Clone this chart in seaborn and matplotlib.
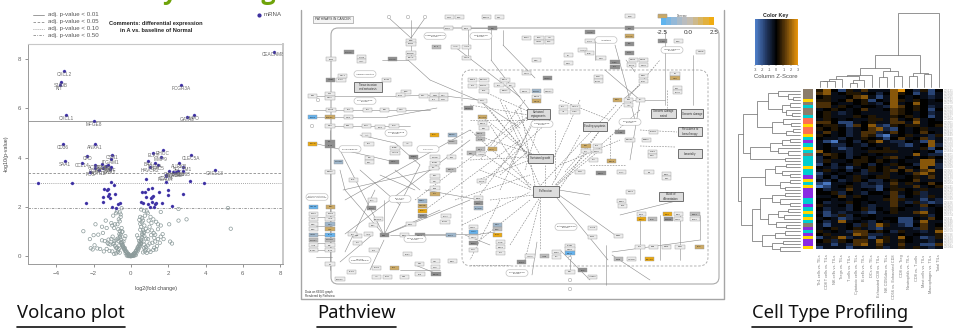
import matplotlib
matplotlib.use('Agg')
import matplotlib.pyplot as plt
import matplotlib.colors as mcolors
from matplotlib.patches import Rectangle, FancyBboxPatch, Circle
import pandas as pd
import seaborn as sns

W, H = 955, 329

# Volcano plot values.
sig_x = [7.65, -3.58, -3.76, -3.82, 2.69, -3.46, 2.99, 3.39, -1.97, -3.64, -1.94, -2.35, -0.99, -3.55, -2.6,
         -1.09, 1.2, 1.7, 1.61, 0.93, 1.29, 3.2, 2.58, 2.78, 4.5, 1.86, 2.28, 2.81, -2.17, -1.94, -1.49, -1.13,
         -1.9, -1.55, -1.35, -1.7, -1.25, -1.05, 1.0, 1.45, 1.9, 2.05, 2.4, 2.5,
         -5.0, -3.15, -1.09, -0.9, -1.45, -1.22, -1.3, -1.49, -1.16, -1.22, -0.86, -1.13, -1.49, -2.42, -0.59, -0.68,
         -1.0, -0.82, 0.81, 1.88, 3.14, 3.89, 2.78, 2.01, 2.01, 1.52, 0.57, 0.75, 0.93, 1.11, 0.81, 1.11, 1.2, 1.08,
         0.54, 0.66, 0.93, 1.11, 1.34, 1.68, 2.2, 1.02, 1.24, 1.3]
sig_y = [8.30, 7.50, 7.07, 6.94, 6.95, 5.73, 5.67, 5.73, 5.48, 4.54, 4.56, 4.08, 4.12, 3.87, 3.8,
         3.93, 4.2, 4.31, 4.04, 3.87, 3.77, 4.11, 3.77, 3.64, 3.5, 3.26, 3.41, 3.46, 3.43, 3.57, 3.6, 3.54,
         3.72, 3.75, 3.68, 3.5, 3.7, 3.62, 3.62, 3.7, 3.3, 3.45, 3.42, 3.45,
         2.96, 2.96, 3.03, 2.89, 2.72, 2.73, 2.68, 2.42, 2.52, 2.46, 2.53, 2.35, 2.22, 2.18, 2.15, 2.11,
         2.0, 1.97, 3.12, 3.03, 3.07, 2.99, 2.54, 2.68, 2.49, 2.6, 2.62, 2.62, 2.73, 2.76, 2.42, 2.42, 2.46, 2.38,
         2.22, 2.16, 2.11, 2.19, 2.18, 2.18, 2.06, 1.99, 2.01, 2.12]
gene_names = ['CEACAM8', 'CXCL2', 'S100B', 'KIT', 'FCGR3A', 'CXCL1', 'GATA3', 'MPO', 'MFGE8', 'CD36', 'ANXA1',
              'CFD', 'CSN1', 'SAA1', 'CCL14', 'ITGAM1', 'ELK3', 'RHOC', 'MMP9', 'BAX', 'TOP2A', 'CLEC5A',
              'AURKB', 'SECTM1', 'CXCL13', 'PLAUR', 'LILRB4', 'CD163', 'FOS', 'PDK4', 'ABCA8', 'ANK2',
              'ACKR1', 'SELE', 'CAV1', 'ADH1B', 'TEK', 'VWF', 'HAVCR2', 'BIRC5', 'CD274', 'IDO1', 'TYROBP', 'LAG3']

gray_x = [-0.05, 0.05, -0.1, 0.1, -0.15, 0.15, -0.2, 0.2, -0.25, 0.25, -0.3, 0.3, -0.1, 0.12, -0.18, 0.22,
          -0.35, 0.35, -0.28, 0.3, -0.4, 0.4, -0.32, 0.38, -0.45, 0.45, -0.38, 0.42, -0.5, 0.5, -0.42, 0.48,
          -0.55, 0.55, -0.46, 0.52, -0.6, 0.6, -0.5, 0.56, -0.02, 0.02, -0.08, 0.08, -0.14, 0.16, -0.22, 0.26,
          -0.6, 0.65, -0.7, 0.75, -0.8, 0.85, -0.9, 0.95, -1.0, 1.05, -1.15, 1.2, -1.3, 1.35, -0.65, 0.7,
          -0.75, 0.8, -0.85, 0.9, -0.95, 1.0, -1.1, 1.15, -1.25, 1.3, -0.55, 0.6, -0.6, 0.65, -0.5, 0.55,
          -0.62, 0.68, -0.7, 0.72, -0.78, 0.82, -0.88, 0.92, -0.98, 1.08, -1.2, 1.25, -1.4, 1.45, -1.55, 1.6,
          0.7, 0.8, 0.9, 1.0, 1.12, 1.22, 0.5, 0.58, 0.65, 0.72, 0.45, 0.5, -0.68, -0.72, -0.6, -0.55,
          -0.8, -0.9, -1.05, -1.2, -1.45, -1.65, -1.8, -1.95, -2.05, -2.15, -2.2, -2.0, -1.75, -1.5, -1.3,
          -1.0, -0.85, -0.65, -0.55, -0.6, -0.75, -0.9, -1.05, -1.35, -1.55, -1.9, -2.55, -0.95, -0.8,
          0.6, 0.75, 0.9, 1.05, 1.2, 1.35, 1.45, 1.6, 1.7, 1.75, 1.55, 1.4, 1.25, 1.1, 0.95, 0.85, 0.7, 0.55,
          2.05, 2.1, 2.2, 2.55, 2.55, 2.98, 5.2, 5.35, 1.6, 1.45, 1.3, -0.5, -0.45,
          -0.12, 0.14, -0.24, 0.28, -0.33, 0.36, -0.44, 0.46, -0.52, 0.54, -0.4, 0.44, -0.35, 0.4, -0.3, 0.33,
          -0.7, 0.78, -0.62, 0.7, -0.58, 0.62, -0.48, 0.5, -0.66, 0.68]
gray_y = [0.02, 0.02, 0.05, 0.06, 0.1, 0.1, 0.13, 0.14, 0.18, 0.19, 0.24, 0.25, 0.02, 0.03, 0.06, 0.08,
          0.3, 0.31, 0.12, 0.15, 0.38, 0.4, 0.22, 0.24, 0.46, 0.48, 0.3, 0.32, 0.56, 0.58, 0.36, 0.4,
          0.66, 0.68, 0.48, 0.5, 0.76, 0.78, 0.58, 0.62, 0.0, 0.01, 0.03, 0.04, 0.01, 0.02, 0.03, 0.05,
          0.15, 0.16, 0.18, 0.2, 0.12, 0.14, 0.1, 0.24, 0.2, 0.18, 0.22, 0.26, 0.3, 0.28, 0.3, 0.34,
          0.35, 0.38, 0.42, 0.44, 0.5, 0.52, 0.48, 0.55, 0.55, 0.6, 0.88, 0.92, 1.02, 1.06, 1.15, 1.2,
          0.9, 0.95, 0.72, 0.82, 0.68, 0.72, 0.62, 0.7, 0.8, 0.86, 0.68, 0.75, 0.62, 0.7, 0.65, 0.8,
          1.0, 1.12, 1.02, 1.2, 1.05, 0.95, 1.32, 1.38, 1.45, 1.25, 1.48, 1.6, 1.1, 1.3, 1.42, 1.7,
          0.35, 0.55, 0.7, 0.5, 0.2, 0.3, 0.32, 0.45, 0.28, 0.33, 0.7, 0.86, 0.88, 0.95, 1.15,
          1.25, 1.3, 1.5, 1.6, 1.78, 1.82, 1.15, 1.35, 1.45, 1.2, 1.3, 1.02, 1.65, 1.75,
          1.55, 1.65, 1.75, 1.6, 1.5, 1.4, 1.3, 1.25, 0.9, 0.7, 0.55, 0.42, 0.35, 1.35, 1.45, 1.82, 1.85, 1.9,
          1.3, 0.6, 0.52, 1.92, 1.45, 1.5, 1.96, 1.12, 1.8, 1.1, 0.88, 1.95, 1.0,
          0.09, 0.1, 0.2, 0.22, 0.34, 0.36, 0.42, 0.44, 0.52, 0.54, 0.6, 0.62, 0.72, 0.74, 0.82, 0.85,
          0.25, 0.28, 0.45, 0.48, 0.82, 0.86, 1.0, 1.08, 0.62, 0.6]

cutoff_y = [5.49, 3.37, 2.96, 1.95]
cutoff_styles = ['-', (0, (3, 2)), (0, (1, 1.5)), (0, (3, 1.5, 1, 1.5))]
cutoff_names = ['adj. p-value < 0.01', 'adj. p-value < 0.05', 'adj. p-value < 0.10', 'adj. p-value < 0.50']

# Pathview nodes: x, y, kind, gene. Each list is in its own crop's units.
nodes_left = [(448, 52, 'w', 'WNT'), (478, 52, 'w', 'FZD'), (560, 52, 'w', 'Ligand'), (598, 52, 'w', 'Rec'),
              (445, 85, 'w', 'PTCH'), (500, 85, 'w', 'SMO'), (577, 85, 'd', 'GLI'), (333, 122, 'w', 'BMP'), (333, 132, 'w', 'TGFB'),
              (333, 160, 'w', 'TGFBR'), (333, 173, 'w', 'SMAD'), (410, 140, 'g', 'Bcl-2'), (467, 140, 'w', 'APC'),
              (500, 140, 'w', 'AXIN'), (500, 173, 'w', 'GSK3'), (147, 157, 'd', 'CASP3'), (93, 177, 'w', 'ECM'),
              (185, 172, 'w', 'CALM'), (185, 184, 'w', 'ITGA'), (278, 177, 'd', 'CASP9'), (92, 239, 'd', 'ITGB1'),
              (123, 239, 'w', 'LAMA'), (128, 228, 'w', 'COL4'), (260, 240, 'w', 'E-cad'), (518, 240, 'w', 'BMP2'),
              (552, 240, 'w', 'NOTCH'), (518, 257, 'w', 'DLL'), (552, 257, 'w', 'PTCH1'), (552, 272, 'w', 'TCF'),
              (615, 240, 'w', 'RBX1'), (597, 256, 'w', 'Skp'), (632, 256, 'w', 'Cul'), (615, 272, 'w', 'RHOA'),
              (38, 287, 'w', 'Rac'), (90, 281, 'w', 'FN1'), (90, 294, 'w', 'CXCL'), (318, 275, 'w', 'CBP'),
              (302, 286, 'w', 'p300'), (370, 288, 'w', 'DVL'), (405, 285, 'w', 'MITF'), (430, 285, 'w', 'MET'),
              (402, 298, 'w', 'FLT'), (430, 298, 'w', 'KDR'), (548, 302, 'w', 'MYC'), (93, 329, 'w', 'PDGF'),
              (145, 329, 'w', 'Fos'), (202, 329, 'w', 'Jun'), (253, 329, 'w', 'Raf'), (305, 329, 'w', 'MEK'),
              (505, 325, 'd', 'CCND1'), (548, 352, 't', 'Survivin'), (548, 370, 'w', 'CDK4'), (552, 385, 'w', 'E2F'),
              (38, 352, 'b', 'EGFR'), (90, 352, 't', 'ERBB2'), (145, 352, 'w', 'Grb2'), (90, 377, 'w', 'SOS'),
              (145, 377, 'w', 'Ras'), (200, 377, 'w', 'PI3K'), (240, 382, 'w', 'PIP3'), (282, 377, 'w', 'PKC'),
              (200, 405, 'w', 'Akt'), (403, 404, 'o', 'BAX'), (457, 404, 's', 'BIRC5'), (457, 425, 'g', 'MDM2'),
              (541, 402, 'g', 'CDK2'), (541, 417, 'g', 'CycE'), (514, 459, 'g', 'RB1'), (542, 447, 'g', 'HIF1'),
              (577, 447, 't', 'TRAF'), (542, 463, 'w', 'ARNT'), (38, 431, 'o', 'KITLG'), (90, 425, 'd', 'KIT'),
              (90, 438, 'd', 'FLT3'), (207, 431, 'w', 'Shc'), (115, 485, 's', 'PDGFB'), (208, 474, 'w', 'Crk'),
              (208, 487, 'w', 'CBL'), (285, 443, 'w', 'NFkB'), (322, 432, 'w', 'IKK'), (285, 458, 'w', 'TRAF2'),
              (340, 470, 'd', 'PTEN'), (405, 472, 'w', 'mTOR'), (455, 472, 'w', 'S6K'), (405, 488, 'w', 'FKHR'),
              (282, 485, 'd', 'STAT')]
nodes_right = [(360, 49, 'w', 'FasL'), (358, 85, 'd', 'Fas'), (358, 108, 't', 'CASP8'), (358, 132, 'd', 'Bid'),
               (358, 158, 'd', 'CytC'), (457, 49, 't', 'BRCA'), (457, 123, 'd', 'ATM'), (505, 123, 'w', 'CHK'),
               (50, 113, 'w', 'TGFA'), (87, 113, 'w', 'EGF'), (118, 113, 'w', 'IGF'), (87, 125, 'w', 'VEGF'),
               (118, 125, 'w', 'FGF'), (80, 181, 'w', 'HGF'), (240, 96, 'd', 'APAF'), (240, 123, 'w', 'CASP'),
               (175, 165, 'w', 'Bcl'), (175, 190, 'w', 'MSH'), (218, 151, 'w', 'AKT1'), (238, 160, 'w', 'PKB'),
               (273, 175, 'w', 'MLH'), (315, 187, 'd', 'TP53'), (315, 200, 'd', 'p21'), (370, 180, 'w', 'MSH2'),
               (400, 180, 'w', 'MSH6'), (365, 196, 'w', 'PMS2'), (400, 196, 'w', 'MLH1'), (50, 220, 'w', 'GSTP'),
               (112, 234, 'd', 'VEGFA'), (45, 273, 'w', 'CDH1'), (80, 273, 's', 'TGFB1'), (115, 273, 'w', 'CTNNA'),
               (80, 290, 'w', 'NOS2'), (80, 303, 't', 'COX2'), (265, 230, 'w', 'PGE'), (265, 243, 'w', 'PPAR'),
               (400, 228, 'w', 'RXR'), (400, 243, 'w', 'RAR'), (322, 300, 't', 'DCC'), (355, 300, 'w', 'Bak'),
               (392, 300, 'w', 'Bcr'), (355, 316, 'w', 'Abl'), (160, 320, 'w', 'JAK'), (195, 320, 'w', 'STAT3'),
               (160, 335, 'w', 'IL6'), (195, 335, 'w', 'TP63'), (495, 222, 'w', 'FH'), (495, 235, 't', 'SDH'),
               (502, 265, 'w', 'VHL'), (502, 277, 'w', 'EPAS'), (572, 155, 'w', 'GADD'), (228, 438, 't', 'Bim'),
               (262, 438, 'w', 'NF1'), (228, 453, 'w', 'p27'), (262, 453, 'w', 'POLK'), (330, 397, 'd', 'ATR'),
               (360, 420, 'w', 'CDC25'), (410, 420, 'w', 'Rad51'), (305, 483, 't', 'CDK6'), (250, 480, 'w', 'p15'),
               (430, 395, 'w', 'hTERT'), (428, 455, 'w', 'TERC'), (428, 468, 'w', 'DKC')]
nodes_bottom = [(90, 20, 'w', 'Cdc42'), (160, 45, 'w', 'PLD'), (217, 105, 'w', 'PKA'), (235, 162, 'w', 'RalGDS'),
                (220, 180, 'w', 'CrkL'), (172, 212, 'w', 'Gab'), (157, 208, 'w', 'Nck'), (205, 208, 'w', 'Abl1'),
                (40, 125, 'b', 'CSF1R'), (92, 125, 't', 'RET'), (215, 130, 'd', 'RASA'), (40, 146, 'w', 'FGF2'),
                (92, 146, 'w', 'FGFR'), (40, 161, 'w', 'IGF1'), (90, 161, 'w', 'IGFR'), (40, 178, 'w', 'HGF'),
                (90, 178, 's', 'MET'), (40, 193, 'w', 'NGF'), (90, 193, 't', 'TRK'), (40, 209, 's', 'VEGF'),
                (90, 209, 'b', 'FLT1'), (40, 225, 'g', 'PDGFA'), (90, 225, 'g', 'PDGFR'), (40, 240, 'w', 'Ang'),
                (90, 240, 'w', 'TIE'), (40, 256, 'w', 'FLT3L'), (90, 256, 'w', 'FLT3'), (90, 298, 'w', 'GF'),
                (172, 233, 'w', 'Fyn'), (222, 256, 'w', 'Sos'), (253, 210, 'd', 'Ras'), (313, 210, 'w', 'Raf1'),
                (360, 210, 'd', 'MEK1'), (453, 210, 's', 'ERK1'), (520, 187, 'w', 'c-Myc'), (520, 201, 'b', 'c-Jun'),
                (520, 217, 'w', 'c-Fos'), (520, 234, 'd', 'ETS1'), (520, 255, 'w', 'MMP'), (592, 179, 's', 'MAX'),
                (592, 193, 'g', 'CBP'), (592, 209, 'o', 'ELK1'), (602, 232, 'w', 'CycD'), (602, 246, 'w', 'CDK4'),
                (602, 263, 'w', 'p16'), (367, 107, 's', 'CTBP'), (367, 122, 't', 'CTNNB'), (367, 137, 'o', 'TCF7'),
                (367, 152, 'd', 'LEF1'), (535, 100, 'w', 'BIRC'), (535, 115, 'd', 'MYC'), (535, 130, 's', 'PPARD'),
                (545, 48, 'w', 'MMP2'), (438, 153, 'w', 'RALA'), (435, 170, 'w', 'RALB'), (333, 178, 'w', 'Rac1'),
                (322, 268, 'w', 'RhoA'), (358, 296, 'w', 'Pak'), (406, 288, 'w', 'JNK'), (406, 306, 'w', 'MKK'),
                (458, 288, 'w', 'CDC'), (360, 328, 'w', 'Rho'), (408, 328, 'd', 'ROCK'), (283, 308, 't', 'Shh'),
                (230, 308, 'w', 'PKCa'), (155, 320, 'w', 'PLCg'), (230, 335, 'w', 'IP3'), (262, 335, 'w', 'DAG'),
                (313, 335, 'w', 'Ca2'), (120, 343, 'w', 'EGFR2'), (402, 8, 'w', 'Ets'), (405, 33, 'w', 'CBL'),
                (405, 48, 'w', 'Rel'), (405, 70, 'w', 'Bad'), (405, 87, 't', 'p21'), (453, 15, 'g', 'CDKN'),
                (665, 291, 'd', 'DAPK'), (690, 274, 'w', 'ITGAV'), (733, 274, 'g', 'ITGB'), (770, 262, 'w', 'PTK2'),
                (770, 275, 'w', 'Src'), (810, 242, 'w', 'LAMB'), (810, 252, 'w', 'CTNN'), (810, 264, 'b', 'CD44'),
                (810, 320, 'w', 'Fak'), (848, 316, 'd', 'Bcl2'), (878, 335, 'w', 'Integrin'), (878, 188, 'w', 'Cyclin'),
                (878, 215, 'w', 'PIM1'), (840, 20, 'w', 'MYD'), (903, 25, 'd', 'MLH1'), (965, 22, 'w', 'CycA'),
                (1047, 22, 'w', 'Rb'), (1100, 28, 'w', 'E2F1'), (1100, 40, 'w', 'DP1'), (992, 80, 'w', 'CDK1'),
                (965, 108, 'w', 'CEBP'), (968, 122, 'w', 'PML'), (1103, 148, 'o', 'GLI1'), (1135, 148, 'w', 'HHIP'),
                (1185, 148, 'g', 'BMP4'), (1105, 163, 'd', 'PTCH2'), (1135, 163, 'w', 'c-Myc'), (1185, 163, 'w', 'TCF4'),
                (1025, 148, 'w', 'Bmi1'), (1025, 163, 'o', 'DVL1'), (1058, 163, 'g', 'NKD'), (955, 212, 'w', 'Cdk2'),
                (955, 282, 'g', 'Fadd'), (995, 282, 'w', 'TRADD'), (1048, 283, 'o', 'SMAD3'), (1020, 245, 'w', 'p53'),
                (1060, 245, 'w', 'Rad'), (1100, 245, 'w', 'Cdc6'), (1140, 245, 'w', 'Mdm'), (1198, 245, 't', 'Ect2')]

# Big process boxes: left, top, right, bottom, name (picture pixels).
process_boxes = [(354, 82, 382, 92, 'Tissue invasion\nand metastasis'), (527, 109, 550, 119, 'Sustained\nangiogenesis'),
                 (651, 109, 676, 118, 'Genomic damage\ncontrol'), (681, 109, 703, 118, 'Genomic damage'),
                 (583, 122, 607, 131, 'Evading apoptosis'), (678, 127, 702, 136, 'Resistance to\nchemotherapy'),
                 (678, 149, 702, 158, 'Immortality'), (528, 154, 553, 163, 'Sustained growth'),
                 (533, 186, 559, 197, 'Proliferation'), (659, 192, 683, 201, 'Block of\ndifferentiation')]
pathway_labels = [(435, 36, 'Hedgehog signaling\npathway'), (481, 36, 'Wnt signaling\npathway'), (365, 74, 'Adherens junction'),
                  (365, 101, 'Notch signaling\npathway'), (396, 133, 'mTOR signaling\npathway'), (428, 149, 'Cell cycle'),
                  (350, 149, 'Focal adhesion'), (606, 40, 'Apoptosis'), (672, 50, 'VEGF signaling\npathway'),
                  (542, 124, 'TGFb signaling\npathway'), (630, 122, 'p53 signaling\npathway'), (400, 199, 'JAK-STAT\npathway'),
                  (415, 239, 'MAPK signaling\npathway'), (360, 260, 'Calcium\nsignaling pathway'), (517, 273, 'PPAR signaling\npathway'),
                  (566, 227, 'Estrogen signaling\npathway'), (317, 197, 'Cytokine-cytokine\nreceptor interaction')]

# Edges between nodes, in picture pixels.
solid_edges = [(313, 96, 402, 96), (402, 96, 437, 95), (437, 95, 478, 100), (478, 100, 520, 128), (313, 110, 430, 110),
               (313, 117, 387, 117), (387, 117, 437, 108), (330, 126, 410, 126), (360, 135, 395, 143), (395, 143, 420, 165),
               (382, 60, 408, 60), (408, 60, 430, 80), (430, 80, 477, 100), (455, 47, 520, 97), (389, 18, 411, 38),
               (411, 20, 411, 38), (425, 18, 411, 38), (411, 44, 411, 56), (467, 28, 497, 28), (468, 28, 468, 57),
               (491, 28, 491, 60), (491, 60, 535, 117), (503, 30, 503, 45), (503, 45, 535, 78), (313, 143, 395, 162),
               (330, 130, 330, 270), (395, 170, 420, 190), (360, 170, 400, 205), (345, 252, 375, 190), (384, 235, 420, 165),
               (384, 235, 384, 200), (384, 235, 440, 210), (384, 235, 470, 200), (345, 200, 470, 130), (345, 234, 470, 140),
               (390, 235, 450, 235), (370, 270, 384, 240), (420, 234, 480, 234), (480, 234, 495, 232), (415, 265, 440, 275),
               (615, 45, 630, 100), (630, 100, 635, 120), (630, 100, 665, 100), (665, 30, 665, 105), (693, 55, 693, 105),
               (595, 40, 595, 60), (626, 60, 635, 72), (640, 85, 625, 98), (605, 70, 640, 100), (640, 100, 630, 160),
               (559, 190, 590, 195), (559, 195, 615, 235), (557, 198, 608, 260), (612, 252, 700, 240), (612, 255, 650, 280),
               (620, 215, 680, 200), (640, 215, 640, 260), (660, 215, 660, 260), (680, 215, 680, 260), (700, 215, 700, 240),
               (570, 245, 570, 272), (537, 242, 532, 275), (560, 250, 590, 280), (606, 245, 606, 270), (606, 270, 606, 285),
               (340, 170, 345, 190), (345, 190, 384, 235), (340, 150, 384, 235), (316, 217, 332, 217), (316, 226, 332, 226),
               (316, 235, 332, 235), (316, 243, 332, 243), (316, 250, 332, 250), (316, 257, 332, 257), (343, 190, 440, 168),
               (340, 262, 372, 235), (400, 270, 440, 270), (380, 175, 415, 190), (425, 190, 480, 200), (465, 235, 490, 245)]
dashed_edges = [(480, 100, 530, 157), (480, 115, 533, 157), (470, 120, 527, 120), (475, 135, 536, 155), (490, 125, 530, 188),
                (500, 100, 540, 186), (510, 130, 536, 110), (478, 150, 531, 188), (480, 170, 532, 190), (490, 200, 534, 195),
                (515, 110, 540, 155), (525, 100, 480, 160), (580, 100, 553, 160), (590, 150, 555, 185), (600, 130, 560, 188),
                (640, 110, 555, 186), (667, 90, 667, 108), (616, 105, 540, 186), (545, 165, 545, 185), (520, 140, 480, 195),
                (530, 200, 480, 240), (500, 200, 470, 260), (525, 260, 540, 200), (560, 100, 610, 120), (640, 146, 675, 147),
                (640, 130, 677, 132), (510, 245, 540, 197), (540, 197, 540, 250), (462, 225, 530, 192), (470, 265, 510, 265),
                (415, 200, 520, 120), (425, 210, 520, 140), (500, 175, 530, 150), (455, 200, 530, 175), (555, 130, 555, 180),
                (470, 105, 528, 115), (480, 90, 530, 112), (490, 110, 531, 160), (505, 105, 532, 158), (520, 105, 535, 186),
                (470, 130, 532, 186), (470, 160, 528, 157), (478, 180, 530, 160), (510, 165, 535, 120), (525, 170, 540, 120),
                (500, 190, 533, 120), (490, 150, 527, 118), (550, 120, 480, 185), (560, 165, 620, 140), (565, 172, 660, 60),
                (552, 185, 580, 135), (555, 187, 600, 150), (610, 135, 610, 160), (590, 165, 625, 165)]

# Heat map cells, one letter per cell (see z_levels).
z_levels = {'B': -2.8, 'b': -1.7, 'c': -0.9, 'k': -0.35, '.': 0.0, 'n': 0.45, 'o': 1.0, 'O': 1.8, 'G': 2.9}
heat_rows = ["nO.bnkokkkOG.cnb.", "oOk.nnk.c.On.bkbk", ".nkk.oOkbkO.k.kck", "nnk.o.nb.kOnkn.k.", "oo.kk.nkc.Ok.O.kk",
             "ookn.k..kcOo.n.ck", "k.n.k.okk.on.n.b.", ".nkck.kkkkon.k.ck", ".nkkkn.nkkn.nk.bk", "kn.k.kknnkok.ok.k",
             "oo.bbk.nkkookOk..", ".nnkbo.Ocbn.nnk.n", "n.n.ck.oOcb.k.nkk", "kok.ckoocko.k.o.k", "n.k.ckonbBk.nkkcn",
             ".kkc.kn.kb.ok.ock", "kbBk.c.nOkcc.kbOk", "k.cc.kc.kkkcbk.Oc", "k.kbck.k.nkkkknb.", "O.kkckknnnnkk.k.b",
             "kon.ck.k.kkkkOkcc", "c.n.c.n.knok.k.n.", "cnkk.nn.n.k.kkOOk", "b.c.kn.c.kn..cOOc", ".kckbk.n.nkok.Okc",
             "knk.c.cn.no.okoOk", "bk.k.kckknk.koOnk", "c.c.knk.nnkk.nkok", "kc.ckn.cc.n..okkk", "bBkk.kckckoknk.o.",
             "Bbk.nkccbknkkok.n", ".ckkok.kb.nn.knkk", "..nc.kc..kok.nckk", "kk.okn.kk.oc.kcnk", "..k.k..kknonkkbkc",
             ".ckkn.k.kkokcncbc", "nkk.c.kckkok.ko.k", ".ckkc.nc.kn.kkck.", "kbkckkcbk.nkkoOk.", ".bcnc.k.kkkkkknc.",
             "k.kbck..k..bb.ko.", ".ckOk.kc.k.bbkOkk", "kbkk.cncOnkcb.ok.", "k.nk.nkcbkkkkcokn", "nk.kcoo.n.cnkkckO",
             ".nkkkOocckk.k.kkn", "bknOcknbknkO.kbcn", ".ncn.ookOnkn.kkck", "kkbkcoOkokkokkbbo", "bkkkbkkkncknknkck"]
side_codes = "tttytcttcr" + "ryrrycpcyc" + "tcccyccpyc" + "ypppccpcyc" + "yctpcpyppy"
side_colors = {'t': '#8b7d6b', 'y': '#ffd700', 'c': '#00ced1', 'p': '#8a2be2', 'r': '#ff6f4f'}
signature_names = ['Th1 cells vs. TILs', 'CD8 T cells vs. TILs', 'NK cells vs. TILs', 'Tregs vs. TILs', 'T cells vs. TILs',
                   'Cytotoxic cells vs. TILs', 'B cells vs. TILs', 'DCs vs. TILs', 'Exhausted CD8 vs. TILs',
                   'NK CD56dim vs. TILs', 'CD56 vs. Exhausted CD8', 'CD8 vs. Treg', 'Neutrophils vs. TILs',
                   'CD8 vs. T cells', 'Mast cells vs. TILs', 'Macrophages vs. TILs', 'Total TILs']

# Dendrograms: (position of the join in pixels, left child, right child), 0 is a leaf.
col_tree = (13, (55,
                 (68,
                  (75, (76, (79, (81, (81, 0, 0), 0), 0), (80, (83, 0, 0), 0)), 0),
                  (71, (77, 0, 0), (76, 0, 0))),
                 (73, (76, 0, 0), (74, 0, 0))), 0)
t1 = (768, (778, 0, (788, 0, (793, 0, 0))), (782, (790, 0, 0), (786, 0, (792, 0, 0))))
t2 = (772, (783, 0, (791, 0, 0)), (786, (793, 0, 0), 0))
t3 = (770, (782, (790, 0, 0), 0), (778, 0, (788, 0, 0)))
t4 = (765, (775, (786, 0, 0), (782, 0, (790, 0, 0))), (780, (790, 0, 0), (785, 0, 0)))
t5 = (760, (772, (785, 0, 0), (780, 0, (790, 0, 0))), (768, (778, (788, 0, 0), (784, 0, 0)), (776, 0, (786, 0, 0))))
t6 = (762, (775, (785, 0, 0), 0), (772, (783, 0, 0), (780, 0, 0)))
row_tree = (738, (743, (757, t1, t2), (750, t3, (785, 0, 0))), (741, t4, (752, t5, t6)))

legend_swatches = ['#5fb4ee', '#78b6e4', '#93b8d8', '#a8bac9', '#b9bcbf', '#c4bdb0', '#cdb98c', '#d6b566', '#e2b03c', '#f0ac12']

kind_fill = {'w': '#ececec', 'g': '#bcbcbc', 'd': '#8e8e8e', 'o': '#eba80f', 't': '#cdaa63', 'b': '#64b2ee', 's': '#9fb7cc'}

sns.set_theme(style='white')
plt.rcParams['font.family'] = ['Liberation Sans', 'DejaVu Sans']

fig = plt.figure(figsize=(W / 100, H / 100), dpi=100)


def px_axes(left, top, right, bottom):
    return fig.add_axes([left / W, 1 - bottom / H, (right - left) / W, (bottom - top) / H])


# The cut-off heading at the very top.
fig.text(276 / W, 1 + 1.5 / H, 'Key Finding', color='#6fa30a', fontsize=18, fontweight='bold', ha='right', va='baseline',
         family='Open Sans')

# Volcano plot
ax = px_axes(28.3, 43.5, 283, 264)
gray_df = pd.DataFrame({'x': gray_x, 'y': gray_y})
sns.scatterplot(gray_df, x='x', y='y', ax=ax, s=6, facecolor='none', edgecolor='#8c9b9b', linewidth=0.5)
sig_df = pd.DataFrame({'x': sig_x, 'y': sig_y})
sns.scatterplot(sig_df, x='x', y='y', ax=ax, s=5, color='#3d2f9e', edgecolor='#5a50c8', linewidth=0.2, zorder=3)
for i, name in enumerate(gene_names):
    ax.text(sig_x[i], sig_y[i] - 0.13, name, fontsize=3.4, color='#6a6a6a', ha='center', va='center', clip_on=True)
for yy, ls in zip(cutoff_y, cutoff_styles):
    ax.axhline(yy, color='#8c8c8c', lw=0.6, ls=ls)
ax.set_xlim(-5.5, 8.15)
ax.set_ylim(-0.31, 8.63)
ax.set_xticks([-4, -2, 0, 2, 4, 6, 8])
ax.set_yticks([0, 2, 4, 6, 8])
ax.tick_params(axis='both', labelsize=4.4, colors='#666666', length=2, width=0.5, pad=3, bottom=True, left=True)
ax.set_xlabel('log2(fold change)', fontsize=3.9, color='#444444', labelpad=7)
ax.set_ylabel('-log10(p-value)', fontsize=3.9, color='#444444')
ax.yaxis.set_label_coords(-0.075, 0.5)
ax.spines[['left', 'bottom']].set_color('#9a9a9a')
ax.spines[['left', 'bottom']].set_linewidth(0.7)
ax.spines[['top', 'right']].set_color('#c8c8c8')
ax.spines['top'].set_linewidth(0.8)
ax.spines['right'].set_linewidth(1.4)

# volcano legends and title, drawn on a whole-figure layer
page = fig.add_axes([0, 0, 1, 1], zorder=-1)
page.set_xlim(0, W)
page.set_ylim(H, 0)
page.axis('off')
for ly, ls, name in zip([14.5, 21.5, 28.5, 35], cutoff_styles, cutoff_names):
    page.plot([33, 44], [ly, ly], color='#8c8c8c', lw=0.6, ls=ls)
    page.text(48, ly, name, fontsize=4.4, color='#555555', va='center')
page.scatter([259], [14.7], s=4, color='#3d2f9e')
page.text(264, 14.7, 'mRNA', fontsize=4.4, color='#555555', va='center')
page.text(155.7, 27, 'Comments: differential expression\nin A vs. baseline of Normal', fontsize=4.1, color='#222222',
          fontweight='bold', ha='center', va='center', linespacing=1.25)

# Pathview panel
pv = px_axes(300, 8, 726, 301)
pv.set_xlim(300, 726)
pv.set_ylim(301, 8)
pv.axis('off')
pv.plot([301, 301, 724, 724], [10, 299, 299, 10], color='#a5a5a5', lw=1.0)
pv.add_patch(FancyBboxPatch((331, 28), 388, 256, boxstyle='round,pad=0,rounding_size=7', fc='none', ec='#aaaaaa', lw=0.8))
pv.add_patch(FancyBboxPatch((462, 70), 246, 196, boxstyle='round,pad=0,rounding_size=9', fc='none', ec='#a5a5a5', lw=0.6,
                            ls=(0, (3, 2))))
for x1, y1, x2, y2 in solid_edges:
    pv.plot([x1, x2], [y1, y2], color='#8a8a8a', lw=0.4)
for x1, y1, x2, y2 in dashed_edges:
    pv.plot([x1, x2], [y1, y2], color='#7c7c7c', lw=0.4, ls=(0, (3, 2)))


def draw_nodes(nodes, ox, oy):
    for zx, zy, kind, name in nodes:
        x, y = ox + zx / 3, oy + zy / 3
        pv.add_patch(Rectangle((x - 4.6, y - 2), 9.2, 4, fc=kind_fill[kind], ec='#9a9a9a', lw=0.3, zorder=3))
        pv.text(x, y, name, fontsize=1.6, color='#333333', ha='center', va='center', zorder=4)


draw_nodes(nodes_left, 300, 0)
draw_nodes(nodes_right, 510, 0)
draw_nodes(nodes_bottom, 300, 165)
for left, top, right, bottom, name in process_boxes:
    pv.add_patch(Rectangle((left, top), right - left, bottom - top, fc='#dddddd', ec='#707070', lw=0.7, zorder=3))
    pv.text((left + right) / 2, (top + bottom) / 2, name, fontsize=1.9, color='#333333', ha='center', va='center', zorder=4)
for x, y, name in pathway_labels:
    pv.add_patch(FancyBboxPatch((x - 11, y - 3.2), 22, 6.4, boxstyle='round,pad=0,rounding_size=3', fc='white', ec='#a8a8a8',
                                lw=0.35, zorder=3))
    pv.text(x, y, name, fontsize=1.6, color='#444444', ha='center', va='center', zorder=4)
for x, y in [(389, 17), (408, 17), (425, 17), (318, 100), (312, 126), (410, 310), (570, 280), (570, 258), (570, 289)]:
    pv.add_patch(Circle((x, y), 1.7, fc='white', ec='#999999', lw=0.35, zorder=3))
pv.add_patch(Rectangle((313, 16), 40, 7, fc='#f4f4f4', ec='#888888', lw=0.4))
pv.text(333, 19.5, 'PATHWAYS IN CANCER', fontsize=2.3, color='#333333', ha='center', va='center')
pv.text(305, 294, 'Data on KEGG graph\nRendered by Pathview', fontsize=2.1, color='#333333', va='center', linespacing=1.3)
for i, col in enumerate(legend_swatches):
    pv.add_patch(Rectangle((660.7 + i * 5.33, 17), 5.33, 8, fc=col, ec='none', zorder=5))
pv.add_patch(Rectangle((658, 14.5), 9, 3.5, fc='#cdaa63', ec='#999999', lw=0.2, zorder=5))
pv.text(682, 16, 'Decrease', fontsize=1.8, color='#444444', ha='center', va='center')
for x, lab in zip([662, 688, 714], ['-2.5', '0.0', '2.5']):
    pv.text(x, 32, lab, fontsize=4.6, color='#333333', ha='center', va='center', zorder=5)

# Cell type heat map
heat_df = pd.DataFrame([[z_levels[c] for c in row] for row in heat_rows], columns=signature_names)
key_cmap = mcolors.LinearSegmentedColormap.from_list('key', ['#4f80cc', '#233a66', '#000000', '#70470a', '#e8950a'])
hm = px_axes(816, 89, 942.6, 249)
sns.heatmap(heat_df, ax=hm, cmap=key_cmap, vmin=-3, vmax=3, cbar=False, xticklabels=True, yticklabels=False)
hm.tick_params(axis='x', labelsize=2.8, labelcolor='#777777', rotation=90, length=0, pad=4)

# colour strip
side = px_axes(802.7, 89, 813.3, 249)
strip = [list(side_colors).index(c) for c in side_codes]
sns.heatmap(pd.DataFrame({'Comments': strip}), ax=side, cmap=mcolors.ListedColormap(list(side_colors.values())),
            vmin=0, vmax=len(side_colors) - 1, cbar=False, yticklabels=False)
side.tick_params(axis='x', labelsize=2.8, labelcolor='#777777', rotation=90, length=0, pad=4)

# row labels next to the heat map
for i in range(50):
    page.text(943.5, 89 + (i + 0.5) * 3.2, '%06d' % (205131 + i * 37), fontsize=2.1, color='#b0b0b0', va='center')


def draw_col_tree(node, first):
    # returns x, y of the join and how many leaves it holds
    if node == 0:
        return 816 + (first + 0.5) * (126.6 / 17), 86.5, 1
    y, left, right = node
    lx, ly, ln = draw_col_tree(left, first)
    rx, ry, rn = draw_col_tree(right, first + ln)
    page.plot([lx, lx, rx, rx], [ly, y, y, ry], color='#777777', lw=0.55, solid_joinstyle='miter')
    return (lx + rx) / 2, y, ln + rn


def draw_row_tree(node, first):
    if node == 0:
        return 800, 89 + (first + 0.5) * 3.2, 1
    x, top, low = node
    tx, ty, tn = draw_row_tree(top, first)
    lx, ly, ln = draw_row_tree(low, first + tn)
    page.plot([tx, x, x, lx], [ty, ty, ly, ly], color='#777777', lw=0.55, solid_joinstyle='miter')
    return x, (ty + ly) / 2, tn + ln


draw_col_tree(col_tree, 0)
draw_row_tree(row_tree, 0)

# colour key
key = px_axes(754.7, 19.3, 798, 65.3)
gradient = pd.DataFrame([[v / 10 for v in range(-30, 31)]] * 2)
sns.heatmap(gradient, ax=key, cmap=key_cmap, vmin=-3, vmax=3, cbar=False, xticklabels=False, yticklabels=False)
key.set_xticks([(v + 3) * 10 + 0.5 for v in range(-3, 4)])
key.set_xticklabels(['-3', '-2', '-1', '0', '1', '2', '3'])
key.tick_params(axis='x', labelsize=2.8, labelcolor='#555555', length=1, width=0.3, pad=0.6, bottom=True, rotation=0)
page.text(776, 15, 'Color Key', fontsize=3.8, color='#222222', fontweight='bold', ha='center', va='center')
page.text(776, 77, 'Column Z-Score', fontsize=4.3, color='#555555', ha='center', va='center')

# Captions below the panels.
for x, x2, name in [(17, 125, 'Volcano plot'), (317, 395.5, 'Pathview'), (752, 912, 'Cell Type Profiling')]:
    page.text(x, 318, name, fontsize=13.3, color='#111111', family='Noto Sans', va='baseline')
    page.plot([x, x2], [327, 327], color='#111111', lw=1.2)

fig.savefig('out.png', dpi=100)
